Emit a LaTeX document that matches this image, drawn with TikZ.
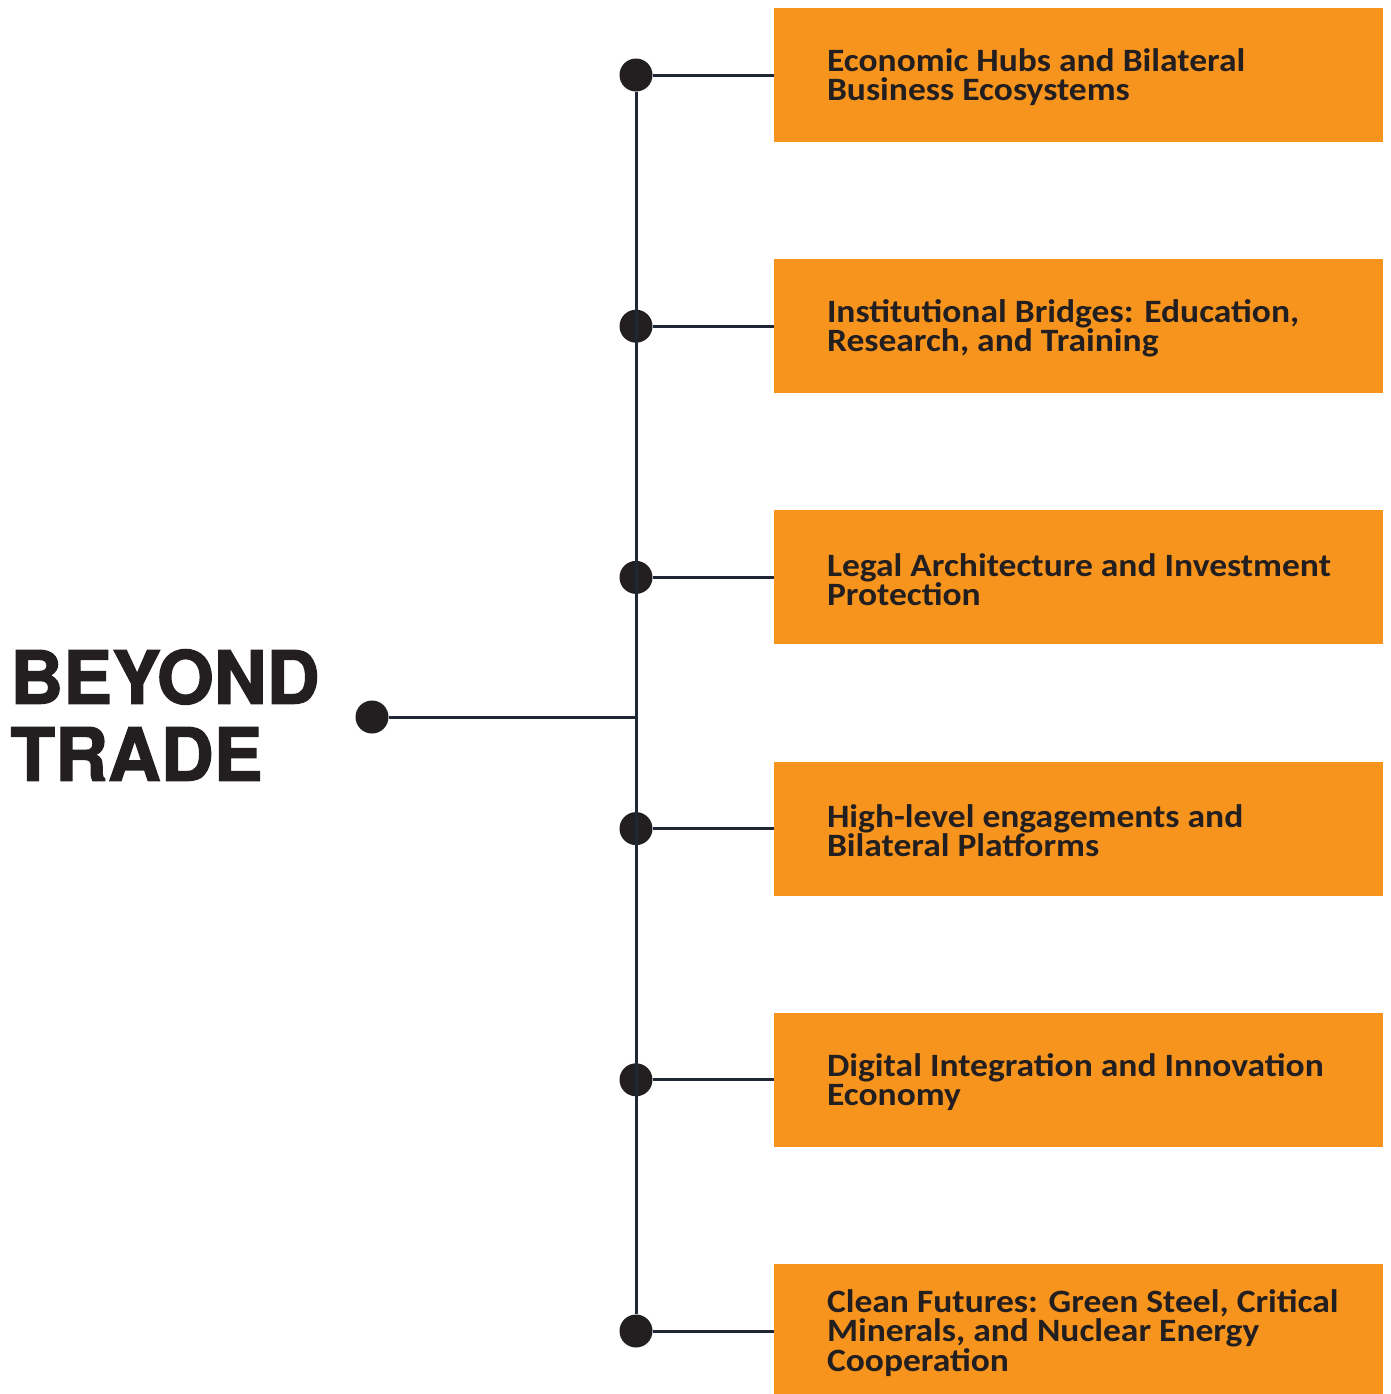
\documentclass[tikz,border=0pt]{standalone}
\usepackage{fontspec}
\setmainfont{Carlito}[FakeStretch=1.09]
\newfontfamily\titlefont{TeX Gyre Heros}[BoldFeatures={FakeBold=1.8}]
\usetikzlibrary{positioning}

\definecolor{pillarorange}{HTML}{F7941D}
\definecolor{inkdark}{HTML}{231F20}
\definecolor{stemnavy}{HTML}{1E2835}

\begin{document}
\begin{tikzpicture}[
    x=0.5pt, y=-0.5pt,
    pillar/.style={fill=pillarorange, minimum width=304.5pt, minimum height=67pt, inner sep=0pt},
    pillartext/.style={anchor=west, align=left, inner sep=0pt, yshift=-1pt, text=inkdark, font=\bfseries\fontsize{16.3}{14.7}\selectfont},
    knot/.style={circle, fill=inkdark, minimum size=16.5pt, inner sep=0pt},
    stem/.style={draw=stemnavy, line width=1.5pt}
]
    \useasboundingbox (0,0) rectangle (1391,1394);

    % Title and its hub dot
    \node[anchor=west, align=left, inner sep=0pt, text=inkdark,
          font=\titlefont\bfseries\fontsize{36.6}{38.5}\selectfont] (title) at (10,715) {BEYOND\\TRADE};
    \node[knot] (hub) at (372,717) {};
    \coordinate (joint) at (636,717);

    % Pillars: dot on the spine, orange box, caption
    \foreach \i/\txt in {1/{Economic Hubs and Bilateral\\Business Ecosystems},
                         2/{Institutional Bridges: Education,\\Research, and Training},
                         3/{Legal Architecture and Investment\\Protection},
                         4/{High-level engagements and\\Bilateral Platforms},
                         5/{Digital Integration and Innovation\\Economy},
                         6/{Clean Futures: Green Steel, Critical\\Minerals, and Nuclear Energy\\Cooperation}} {
        \node[pillar] (b\i) at (1078.5, 75+251.2*\i-251.2) {};
        \node[pillartext, right=26.5pt of b\i.west] (t\i) {\txt};
        \node[knot] (d\i) at (636, 75+251.2*\i-251.2) {};
        \draw[stem] (d\i) -- (b\i.west);
    }

    % Spine and link to the hub
    \draw[stem] (d1) -- (d6);
    \draw[stem] (hub) -- (joint);
\end{tikzpicture}
\end{document}
